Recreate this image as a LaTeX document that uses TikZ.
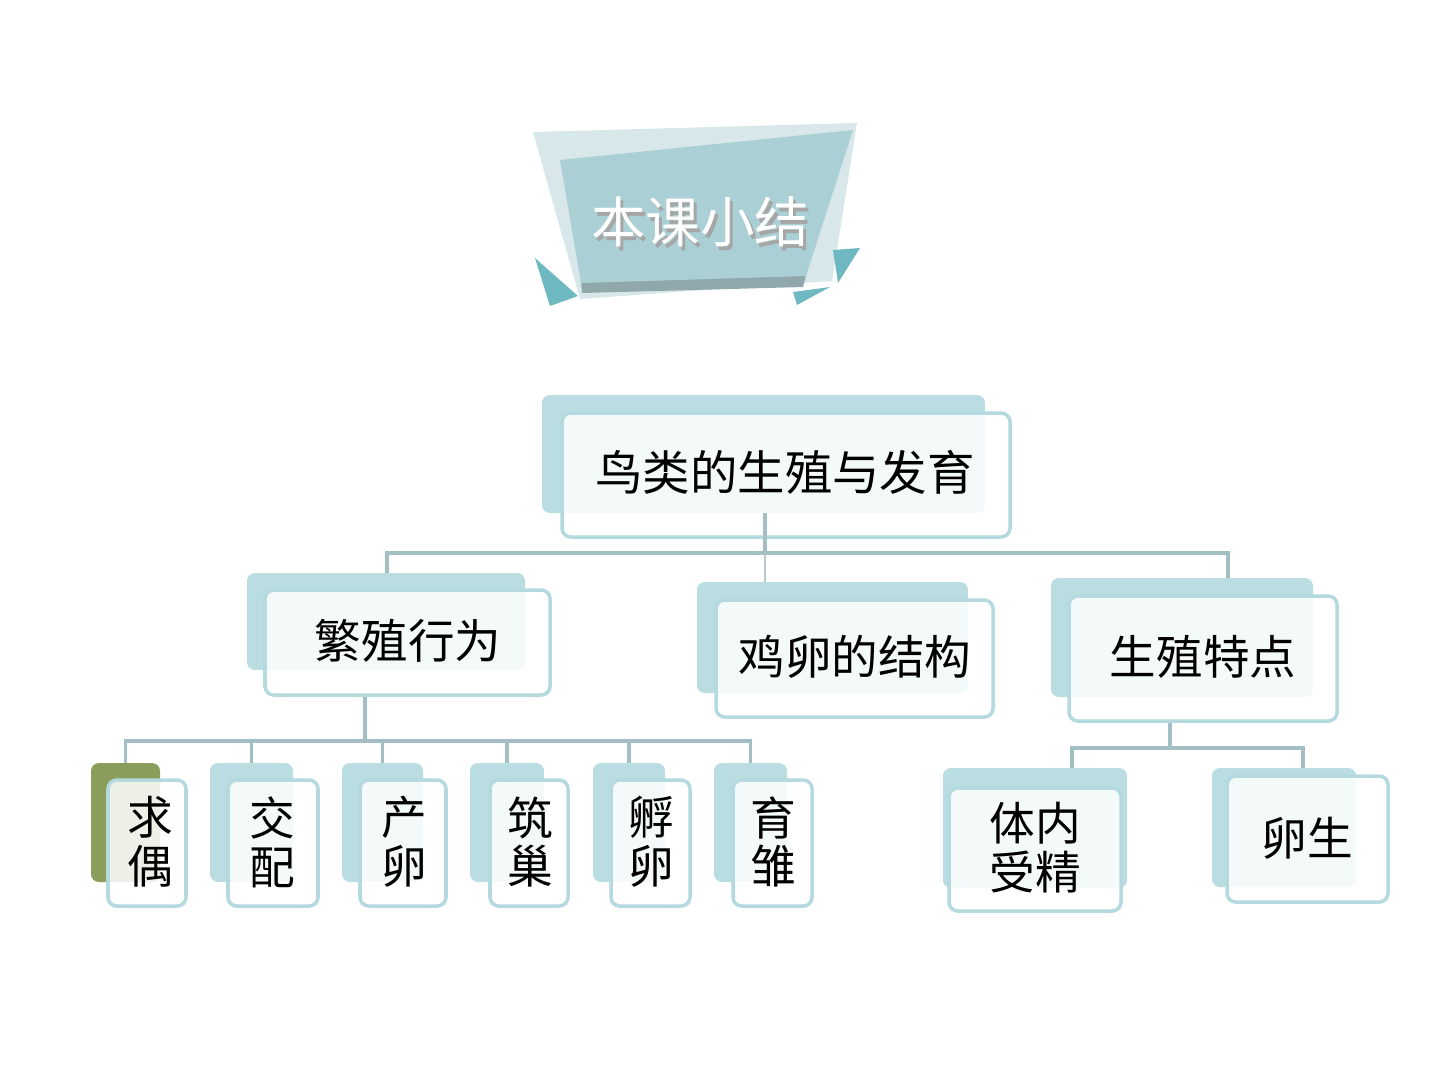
\documentclass[tikz,border=0pt]{standalone}
\usepackage{fontspec}
\newfontfamily\cjk{Noto Sans CJK SC}
\usetikzlibrary{positioning, fit, calc}
\definecolor{tealback}{HTML}{B9DDE1}
\definecolor{tealline}{HTML}{B4D9DE}
\definecolor{linkgray}{HTML}{A3BFC3}
\definecolor{olivegreen}{HTML}{8A9D5B}
\definecolor{bannerlight}{HTML}{D8E7E9}
\definecolor{bannerdark}{HTML}{AACFD4}
\definecolor{bannerband}{HTML}{90A8AC}
\definecolor{triteal}{HTML}{6EB8C2}
\tikzset{
  backbox/.style={fill=tealback, rounded corners=4.5pt, inner sep=0pt},
  frontbox/.style={draw=tealline, line width=2pt, fill=white, fill opacity=0.85,
    rounded corners=5pt, inner sep=0pt},
  bigtext/.style={font=\cjk\fontsize{27}{31}\selectfont, inner sep=0pt},
  midtext/.style={font=\cjk\fontsize{26.5}{30}\selectfont, inner sep=0pt},
  leaftext/.style={font=\cjk\fontsize{26}{27.8}\selectfont, align=center, inner sep=0pt},
  titletext/.style={font=\cjk\fontsize{31}{34}\selectfont},
  link/.style={draw=linkgray, line width=2.2pt},
}
\begin{document}
\begin{tikzpicture}[x=0.02cm, y=-0.02cm]
  \useasboundingbox (0,0) rectangle (1440,1080);
  % title banner
  \fill[bannerlight] (533,132) -- (857,123) -- (832,281) -- (580,299) -- cycle;
  \fill[bannerband] (581,281) -- (806,275) -- (803,287) -- (582,293) -- cycle;
  \fill[bannerdark] (560,160) -- (853,130) -- (806,276) -- (581,283) -- cycle;
  \fill[triteal] (535,258) -- (578,296) -- (550,306) -- cycle;
  \fill[triteal] (833,250) -- (860,248) -- (838,283) -- cycle;
  \fill[triteal] (793,292) -- (830,287) -- (797,305) -- cycle;
  \node[titletext, text=gray!70] (title-sh) at (703,226) {本课小结};
  \node[titletext, text=white] (title) at (700,222) {本课小结};

  % root
  \node[backbox, fit={(542,395) (985,513)}] (root-b) {};
  \node[frontbox, fit={(562,413) (1010,537)}] (root) {};
  \node[bigtext] (root-t) at (785,472) {鸟类的生殖与发育};

  % second level
  \node[backbox, fit={(247,573) (525,670)}] (fx-b) {};
  \node[frontbox, fit={(265,590) (550,695)}] (fx) {};
  \node[midtext] (fx-t) at (408,641) {繁殖行为};
  \node[backbox, fit={(697,582) (968,693)}] (jl-b) {};
  \node[frontbox, fit={(716,600) (993,717)}] (jl) {};
  \node[midtext] (jl-t) at (855,657) {鸡卵的结构};
  \node[backbox, fit={(1051,578) (1313,697)}] (tz-b) {};
  \node[frontbox, fit={(1069,596) (1337,721)}] (tz) {};
  \node[midtext] (tz-t) at (1203,657) {生殖特点};

  % leaves under 繁殖行为
  \node[backbox, fill=olivegreen, fit={(91,763) (160,882)}] (qo-b) {};
  \node[frontbox, fit={(108,780) (186,906)}] (qo) {};
  \node[leaftext] (qo-t) at (150,842) {求\\偶};
  \node[backbox, fit={(210,763) (293,882)}] (jp-b) {};
  \node[frontbox, fit={(228,780) (318,906)}] (jp) {};
  \node[leaftext] (jp-t) at (272,842) {交\\配};
  \node[backbox, fit={(342,763) (423,882)}] (cl-b) {};
  \node[frontbox, fit={(360,780) (446,906)}] (cl) {};
  \node[leaftext] (cl-t) at (404,842) {产\\卵};
  \node[backbox, fit={(470,763) (544,882)}] (zc-b) {};
  \node[frontbox, fit={(490,780) (568,906)}] (zc) {};
  \node[leaftext] (zc-t) at (530,842) {筑\\巢};
  \node[backbox, fit={(593,763) (665,882)}] (fl-b) {};
  \node[frontbox, fit={(611,780) (690,906)}] (fl) {};
  \node[leaftext] (fl-t) at (651,842) {孵\\卵};
  \node[backbox, fit={(714,763) (787,882)}] (yc-b) {};
  \node[frontbox, fit={(733,780) (812,906)}] (yc) {};
  \node[leaftext] (yc-t) at (773,842) {育\\雏};

  % leaves under 生殖特点
  \node[backbox, fit={(943,768) (1127,888)}] (ts-b) {};
  \node[frontbox, fit={(949,788) (1121,911)}] (ts) {};
  \node[leaftext] (ts-t) at (1035,848) {体内\\受精};
  \node[backbox, fit={(1212,768) (1356,887)}] (ls-b) {};
  \node[frontbox, fit={(1227,776) (1388,902)}] (ls) {};
  \node[leaftext] (ls-t) at (1307,838) {卵生};

  % connectors
  \coordinate (bus1) at (765,553);
  \coordinate (bus1w) at (387,553);
  \coordinate (bus1e) at (1228,553);
  \draw[link] (root-b.south -| bus1) -- (bus1);
  \draw[link] (bus1w |- fx-b.north) -- (bus1w) -- (bus1e) -- (bus1e |- tz-b.north);
  \draw[draw=linkgray!80, line width=0.6pt] (bus1) -- (bus1 |- jl-b.north);
  \coordinate (bus2) at (365,741);
  \draw[link] (bus2 |- fx.south) -- (bus2);
  \draw[link] (qo-b.north) -- (qo-b.north |- bus2) -- (yc-b.north |- bus2) -- (yc-b.north);
  \foreach \n in {jp, cl, zc, fl}
    \draw[link] (\n-b.north |- bus2) -- (\n-b.north);
  \coordinate (bus3) at (1170,748);
  \coordinate (bus3w) at (1072,748);
  \coordinate (bus3e) at (1303,748);
  \draw[link] (bus3 |- tz.south) -- (bus3);
  \draw[link] (bus3w |- ts-b.north) -- (bus3w) -- (bus3e) -- (bus3e |- ls-b.north);
\end{tikzpicture}
\end{document}
